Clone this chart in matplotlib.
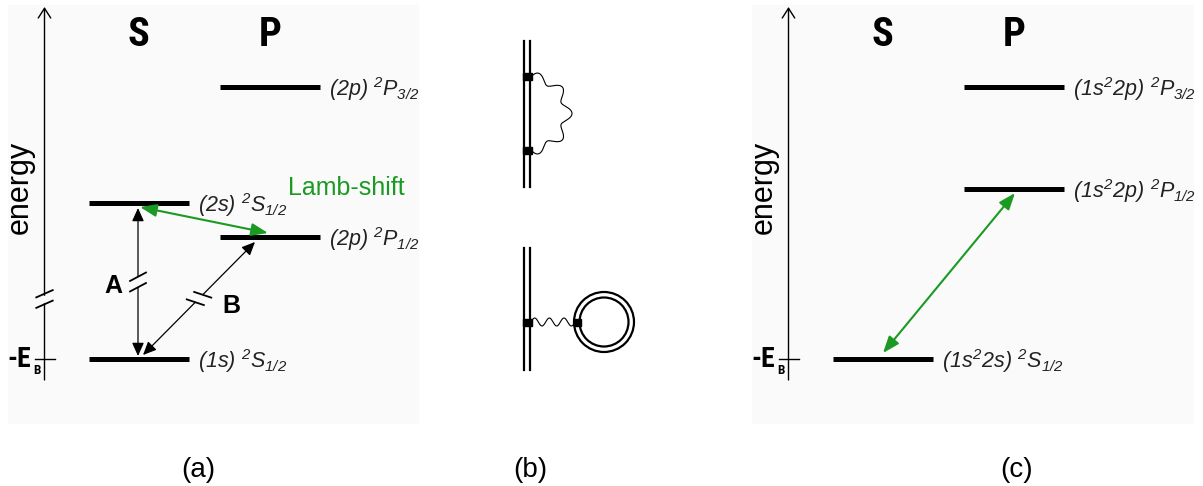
"""
Level schemes for H-like and Li-like ions plus the two leading QED diagrams.
Everything is laid out in pixel units of the 1203x486 output (y grows downwards).
"""

import numpy as np
import matplotlib
matplotlib.use("Agg")
import matplotlib.pyplot as plt
from matplotlib.patches import FancyArrowPatch, Rectangle, Circle

plt.rcParams["font.family"] = ["Liberation Sans", "DejaVu Sans"]
# the level labels are the only mathtext: render all of it in italic
plt.rcParams["mathtext.fontset"] = "custom"
plt.rcParams["mathtext.it"] = "Liberation Sans:italic"
plt.rcParams["mathtext.rm"] = "Liberation Sans:italic"
plt.rcParams["mathtext.bf"] = "Liberation Sans:bold:italic"

W, H = 1203, 486
GREEN = "#1b9a23"
NARROW = ["Roboto Condensed", "Liberation Sans Narrow", "DejaVu Sans"]

# --- panel (a): hydrogen-like ion, level height in px (screen y) ---
a_labels = [r"(2p)\ {}^{2}P_{3/2}", r"(2s)\ {}^{2}S_{1/2}",
            r"(2p)\ {}^{2}P_{1/2}", r"(1s)\ {}^{2}S_{1/2}"]
a_column = ["P", "S", "P", "S"]
a_level_y = [87, 203, 237, 359]

# --- panel (c): lithium-like ion ---
c_labels = [r"(1s^{2}2p)\ {}^{2}P_{3/2}", r"(1s^{2}2p)\ {}^{2}P_{1/2}",
            r"(1s^{2}2s)\ {}^{2}S_{1/2}"]
c_column = ["P", "P", "S"]
c_level_y = [87, 189, 359]

panel_names = ["(a)", "(b)", "(c)"]
panel_name_x = [198, 530, 1017]


def draw_scheme(ax, x0, right, labels, columns, level_y):
    ax.add_patch(Rectangle((x0 + 8, 5), right - x0 - 8, 418, color="#fafafa", zorder=0))
    # energy axis
    ax.add_patch(FancyArrowPatch((x0 + 44.5, 380), (x0 + 44.5, 7),
                                 arrowstyle="->,head_length=7,head_width=4.5",
                                 lw=1.0, color="black", shrinkA=0, shrinkB=0))
    ax.plot([x0 + 35, x0 + 55], [359, 359], color="black", lw=1.0)
    ax.text(x0 + 20, 187, "energy", rotation=90, ha="center", va="center", fontsize=22)
    ax.text(x0 + 7, 359, "-E", ha="left", va="center", fontsize=20,
            fontweight="bold", fontfamily=NARROW, fontstretch="condensed")
    ax.text(x0 + 37, 370, "B", ha="center", va="center", fontsize=9.5,
            fontweight="bold", fontfamily=NARROW, fontstretch="condensed")
    col_x = {"S": (x0 + 89, x0 + 189), "P": (x0 + 220, x0 + 320)}
    for key, cx in zip(["S", "P"], [x0 + 138, x0 + 270]):
        ax.text(cx, 35, key, ha="center", va="center", fontsize=29,
                fontweight="bold", fontfamily=NARROW, fontstretch="condensed")
    for lab, col, y in zip(labels, columns, level_y):
        xl, xr = col_x[col]
        ax.plot([xl, xr], [y, y], color="black", lw=3.6, solid_capstyle="butt")
        ax.text(xr + 9, y + 2, "$" + lab + "$", ha="left", va="center",
                fontsize=15.5, color="#222222")


def arrow(ax, p, q, style, color, lw):
    ax.add_patch(FancyArrowPatch(p, q, arrowstyle=style, color=color, lw=lw,
                                 shrinkA=0, shrinkB=0, zorder=4))


def break_marks(ax, center, along, mark, sep=10.5, half=9):
    u = np.array(along, float) / np.hypot(*along)
    m = np.array(mark, float) / np.hypot(*mark)
    c = np.array(center, float)
    for s in (-sep / 2, sep / 2):
        p = c + s * u
        ax.plot([p[0] - half * m[0], p[0] + half * m[0]],
                [p[1] - half * m[1], p[1] + half * m[1]], color="black", lw=1.3, zorder=5)


def broken_arrow(ax, tip1, tip2, mark, lw=0.9):
    tip1, tip2 = np.array(tip1, float), np.array(tip2, float)
    mid = (tip1 + tip2) / 2
    u = (tip2 - tip1) / np.hypot(*(tip2 - tip1))
    head = "-|>,head_length=8,head_width=3.6"
    arrow(ax, mid - 5.5 * u, tip1, head, "black", lw)
    arrow(ax, mid + 5.5 * u, tip2, head, "black", lw)
    break_marks(ax, mid, u, mark)


fig = plt.figure(figsize=(W / 100, H / 100), dpi=100)
ax = fig.add_axes([0, 0, 1, 1])
ax.set_xlim(0, W)
ax.set_ylim(H, 0)
ax.axis("off")

# ---------- (a) ----------
draw_scheme(ax, 0, 418, a_labels, a_column, a_level_y)
# gap in the energy axis
ax.add_patch(Rectangle((40, 296), 9, 6, color="#fafafa", zorder=3))
break_marks(ax, (44.5, 299), (0, 1), (17, -7.5))
broken_arrow(ax, (138, 208), (138, 356), (17, -9))
broken_arrow(ax, (255, 242), (143, 355), (18, 6))
ax.text(113, 286, "A", ha="center", va="center", fontsize=18, fontweight="bold")
ax.text(231, 306, "B", ha="center", va="center", fontsize=18, fontweight="bold")
arrow(ax, (140, 207), (268, 233), "<|-|>,head_length=10,head_width=3.8", GREEN, 1.5)
ax.text(288, 188, "Lamb-shift", ha="left", va="center", fontsize=18, color=GREEN)

# ---------- (b) ----------
for x in (524, 530):
    ax.plot([x, x], [41, 187], color="black", lw=1.6)
    ax.plot([x, x], [248, 370], color="black", lw=1.6)
# self-energy: photon loop
th = np.linspace(-np.pi / 2, np.pi / 2, 400)
r = 36.5 + 4.5 * np.sin(9 * (th + np.pi / 2))
ax.plot(531 + r * np.cos(th), 113.5 + r * np.sin(th), color="black", lw=0.8)
for y in (77, 150):
    ax.add_patch(Rectangle((523, y - 3.5), 9, 7, color="black", zorder=5))
# vacuum polarisation
xs = np.linspace(531, 575, 200)
ax.plot(xs, 322 - 4 * np.sin(2 * np.pi * 3 * (xs - 531) / 44), color="black", lw=0.8)
ax.add_patch(Rectangle((523, 318.5), 9, 7, color="black", zorder=5))
for rad in (30, 24.5):
    ax.add_patch(Circle((604, 322), rad, fill=False, color="black", lw=1.6))
ax.add_patch(Rectangle((574, 318.5), 7, 7, color="black", zorder=5))

# ---------- (c) ----------
draw_scheme(ax, 744, 1193, c_labels, c_column, c_level_y)
arrow(ax, (883, 353), (1015, 193), "<|-|>,head_length=10,head_width=3.8", GREEN, 1.5)

for name, x in zip(panel_names, panel_name_x):
    ax.text(x, 470, name, ha="center", va="center", fontsize=20)

fig.savefig("out.png", dpi=100)
